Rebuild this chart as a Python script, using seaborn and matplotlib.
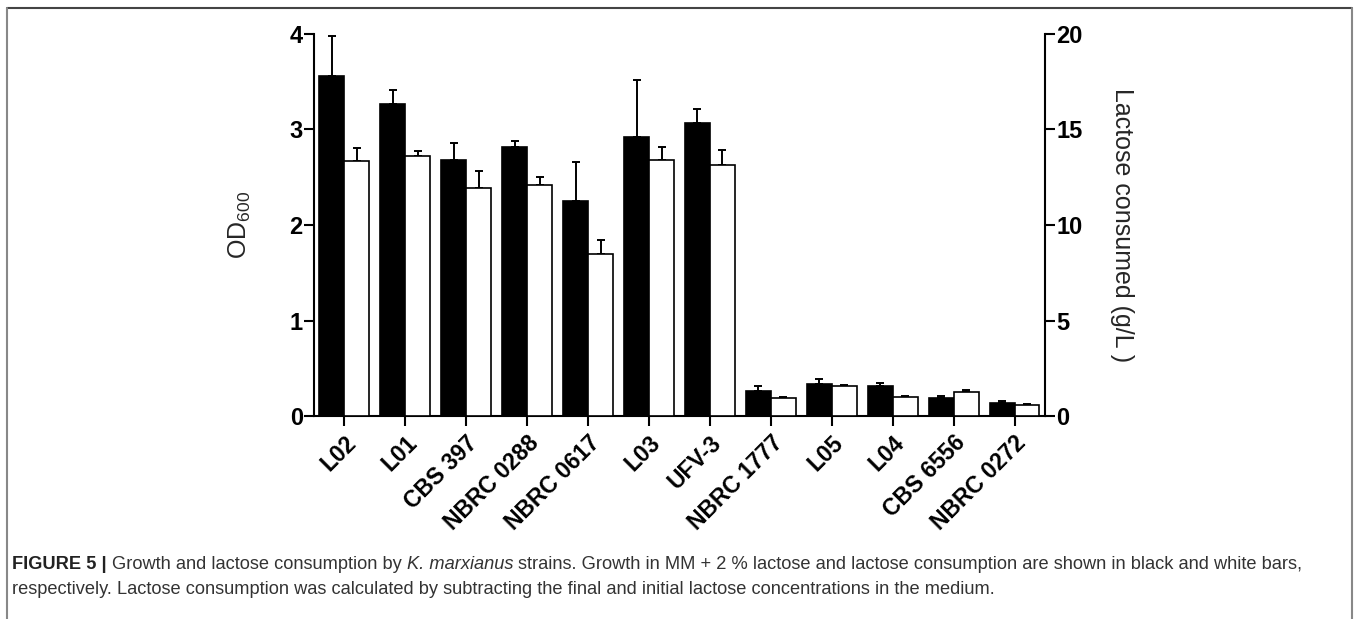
import seaborn as sns
import pandas as pd
import matplotlib.pyplot as plt
import numpy as np
from matplotlib.lines import Line2D

strains = ["L02", "L01", "CBS 397", "NBRC 0288", "NBRC 0617", "L03", "UFV-3",
           "NBRC 1777", "L05", "L04", "CBS 6556", "NBRC 0272"]
od600 = [3.56, 3.27, 2.68, 2.82, 2.25, 2.92, 3.07, 0.265, 0.34, 0.315, 0.185, 0.14]
od600_err = [0.42, 0.14, 0.18, 0.06, 0.41, 0.60, 0.14, 0.045, 0.05, 0.03, 0.02, 0.02]
lactose = [13.35, 13.6, 11.95, 12.1, 8.5, 13.4, 13.15, 0.96, 1.55, 0.98, 1.27, 0.59]
lactose_err = [0.7, 0.25, 0.9, 0.4, 0.7, 0.7, 0.8, 0.05, 0.05, 0.05, 0.1, 0.03]

od_ticks = [0, 1, 2, 3, 4]
lac_ticks = [0, 5, 10, 15, 20]

series = ["OD600", "Lactose"]

sns.set_style("ticks")
plt.rcParams['font.family'] = ['Liberation Sans', 'DejaVu Sans']
plt.rcParams['mathtext.fontset'] = 'custom'
plt.rcParams['mathtext.rm'] = 'Liberation Sans'
plt.rcParams['mathtext.default'] = 'regular'

df_od = pd.DataFrame({"strain": strains, "value": od600, "series": "OD600"})
df_lac = pd.DataFrame({"strain": strains, "value": lactose, "series": "Lactose"})
palette = {"OD600": "black", "Lactose": "white"}

fig = plt.figure(figsize=(13.58, 6.19), dpi=100)
ax = fig.add_axes([0.2312, 0.3279, 0.5383, 0.6172])
ax2 = ax.twinx()

sns.barplot(data=df_od, x="strain", y="value", hue="series", hue_order=series,
            order=strains, palette=palette, width=0.82, dodge=True, errorbar=None,
            edgecolor="black", linewidth=1.2, legend=False, ax=ax)
sns.barplot(data=df_lac, x="strain", y="value", hue="series", hue_order=series,
            order=strains, palette=palette, width=0.82, dodge=True, errorbar=None,
            edgecolor="black", linewidth=1.2, legend=False, ax=ax2)

# upper-only error bars from the bar patches
for a, err in [(ax, od600_err), (ax2, lactose_err)]:
    bars = [p for p in a.patches if np.isfinite(p.get_height()) and p.get_height() > 0]
    xs = [p.get_x() + p.get_width() / 2 for p in bars]
    hs = [p.get_height() for p in bars]
    a.errorbar(xs, hs, yerr=[np.zeros(len(err)), err], fmt="none", ecolor="black",
               elinewidth=1.4, capsize=3, capthick=1.4, zorder=0.5)

ax.set_xlim(-0.5, len(strains) - 0.5)
ax.set_ylim(0, 4)
ax2.set_ylim(0, 20)
ax.set_yticks(od_ticks)
ax2.set_yticks(lac_ticks)
ax.set_xlabel("")
ax2.set_xlabel("")

for a in [ax, ax2]:
    for s in a.spines.values():
        s.set_linewidth(1.5)
        s.set_color("black")
    a.spines["top"].set_visible(False)
ax.spines["right"].set_visible(False)
ax2.spines["left"].set_visible(False)
ax2.spines["bottom"].set_visible(False)

ax.tick_params(axis="y", length=7, width=1.5, pad=1, labelsize=17, colors="black")
ax.tick_params(axis="x", length=7, width=1.5, pad=4, labelsize=16.5, colors="black")
ax2.tick_params(axis="y", length=7, width=1.5, pad=1, labelsize=17, colors="black")
for lab in ax.get_yticklabels() + ax2.get_yticklabels():
    lab.set_fontweight("bold")
ax.set_xticks(range(len(strains)))
ax.set_xticklabels(strains, rotation=45, ha="right", rotation_mode="anchor",
                   fontweight="bold")

ax.set_ylabel("OD$_{600}$", fontsize=18)
ax.yaxis.set_label_coords(-0.083, 0.5)
ax2.set_ylabel("Lactose consumed (g/L )", fontsize=18, rotation=270, va="center")
ax2.yaxis.set_label_coords(1.105, 0.5)

# frame around the figure panel
fig.add_artist(Line2D([7 / 1358, 1352 / 1358], [1 - 8 / 619, 1 - 8 / 619],
                      transform=fig.transFigure, color="#444444", lw=1.5))
fig.add_artist(Line2D([7 / 1358, 7 / 1358], [0, 1 - 8 / 619],
                      transform=fig.transFigure, color="#888888", lw=1.5))
fig.add_artist(Line2D([1352 / 1358, 1352 / 1358], [0, 1 - 8 / 619],
                      transform=fig.transFigure, color="#888888", lw=1.5))

# caption, laid out piece by piece
line1 = [("FIGURE 5 |", "bold", "normal"),
         ("Growth and lactose consumption by", "normal", "normal"),
         ("K. marxianus", "normal", "italic"),
         ("strains. Growth in MM + 2 % lactose and lactose consumption are shown in black and white bars,",
          "normal", "normal")]
line2 = [("respectively. Lactose consumption was calculated by subtracting the final and initial lactose concentrations in the medium.",
          "normal", "normal")]

renderer = fig.canvas.get_renderer()


def draw_line(pieces, y_px, size):
    x = 12
    texts = []
    for txt, weight, style in pieces:
        color = "#222222" if weight == "bold" else "#333333"
        t = fig.text(x / 1358, 1 - y_px / 619, txt, fontsize=size, fontweight=weight,
                     fontstyle=style, color=color, va="baseline", ha="left")
        texts.append(t)
        w = t.get_window_extent(renderer).width
        probe = fig.text(0, 0, "x x", fontsize=size, fontweight=weight)
        probe2 = fig.text(0, 0, "xx", fontsize=size, fontweight=weight)
        sp = probe.get_window_extent(renderer).width - probe2.get_window_extent(renderer).width
        probe.remove()
        probe2.remove()
        x += w + sp
    return x - 12, texts


# fit the first caption line to the panel width
width10, tmp = draw_line(line1, 569, 10)
for t in tmp:
    t.remove()
cap_size = 10 * 1301 / width10
draw_line(line1, 569, cap_size)
draw_line(line2, 594, cap_size)

fig.savefig("out.png", dpi=100)
